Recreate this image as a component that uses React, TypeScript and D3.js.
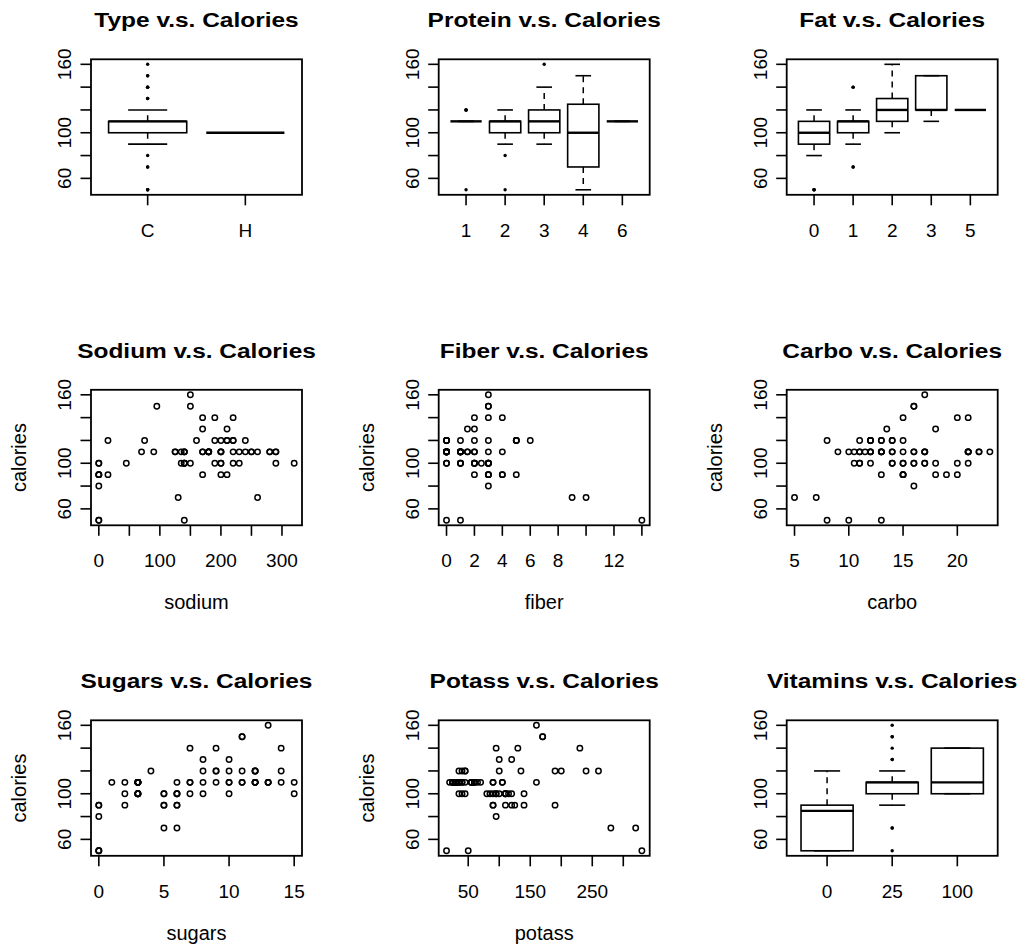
import * as d3 from "d3";

// cereal data, one entry per cereal (rows with missing values dropped)
const cerealType = [
  "C","C","C","C","C","C","C","C","C","C",
  "C","C","C","C","C","C","C","C","C","C",
  "C","C","C","C","C","C","C","C","C","C",
  "C","C","C","C","C","C","C","C","C","C",
  "C","H","C","C","C","C","C","C","C","C",
  "C","C","C","C","C","C","C","C","C","C",
  "C","C","C","C","C","C","C","C","C","C",
  "C","C","C","C",
];
const calories = [
  70,120,70,50,110,110,130,90,90,120,
  110,120,110,110,110,100,110,110,110,110,
  100,100,110,110,100,120,120,110,100,110,
  100,110,120,120,110,110,110,140,110,100,
  110,100,150,150,160,100,120,140,90,130,
  120,100,50,50,100,120,100,90,110,110,
  80,90,90,110,110,90,110,140,100,110,
  110,100,100,110,
];
const protein = [
  4,3,4,4,2,2,3,2,3,1,
  6,1,3,1,2,2,1,1,3,2,
  2,2,2,1,3,3,3,1,2,1,
  3,3,3,1,3,1,2,3,2,4,
  2,4,4,4,3,2,2,3,3,3,
  3,3,1,2,4,3,3,2,1,2,
  2,3,3,2,6,2,2,3,3,2,
  1,3,3,2,
];
const fat = [
  1,5,1,0,2,0,2,1,0,2,
  2,3,2,1,0,0,0,1,3,0,
  1,0,1,0,0,2,0,1,0,1,
  1,0,3,2,1,0,1,1,1,2,
  1,1,3,3,2,1,1,2,0,2,
  1,0,0,0,1,1,2,0,0,0,
  0,0,0,1,0,0,1,1,1,1,
  1,1,1,1,
];
const sodium = [
  130,15,260,140,180,125,210,200,210,220,
  290,210,140,180,280,290,90,180,140,220,
  140,190,125,200,0,160,240,135,45,280,
  140,170,75,220,250,180,170,170,260,150,
  180,0,95,150,150,220,190,220,170,170,
  200,320,0,0,135,210,140,0,240,290,
  0,0,0,70,230,15,200,190,200,250,
  140,230,200,200,
];
const fiber = [
  10,2,9,14,1.5,1,2,4,5,0,
  2,0,2,0,0,1,1,0,4,1,
  2,1,1,1,3,5,5,0,0,0,
  3,3,3,1,1.5,0,1,2,0,2,
  0,0,3,3,3,2,0,3,3,1.5,
  6,1,0,1,2,5,2.5,2,0,0,
  3,4,3,1,1,3,0,4,3,0,
  0,3,3,1,
];
const carbo = [
  5,8,7,8,10.5,11,18,15,13,12,
  17,13,13,12,22,21,13,12,10,21,
  11,18,11,14,14,12,14,13,11,15,
  15,17,13,12,11.5,14,17,20,21,12,
  12,16,16,16,17,15,15,21,18,13.5,
  11,20,13,10,14,14,10.5,15,23,22,
  16,19,20,9,16,15,21,15,16,21,
  13,17,17,16,
];
const sugars = [
  6,8,5,0,10,14,8,6,5,12,
  1,9,7,13,3,2,12,13,7,3,
  10,5,13,11,7,10,12,12,15,9,
  5,3,4,11,10,11,6,9,3,6,
  12,3,11,11,13,6,9,7,2,10,
  14,3,0,0,6,12,8,6,2,3,
  0,0,0,15,3,5,3,14,3,3,
  12,3,3,8,
];
const potass = [
  280,135,320,330,70,30,100,125,190,35,
  105,45,105,55,25,35,20,65,160,30,
  120,80,30,25,100,200,190,25,40,45,
  85,90,100,45,90,35,60,95,40,95,
  55,95,170,170,160,90,40,130,90,120,
  260,45,15,50,110,240,140,110,30,35,
  95,140,120,40,55,90,35,230,110,60,
  25,115,110,60,
];
const vitamins = [
  25,0,25,25,25,25,25,25,25,25,
  25,25,25,25,25,25,25,25,25,25,
  25,25,25,25,25,25,25,25,25,25,
  25,25,25,25,25,25,100,100,25,25,
  25,25,25,25,25,25,25,25,25,25,
  25,100,0,0,25,25,25,25,25,25,
  0,0,0,25,25,25,100,100,100,25,
  25,25,25,25,
];

const FONT = "'Liberation Sans', Arial, Helvetica, sans-serif";
const COL_X = [91, 438.7, 786.7];
const ROW_Y = [59.3, 389.8, 720.3];
const PW = 211;
const PH = 135.5;
const FS = 19;

const extend = ([a, b]: number[]) => {
  const d = (b - a) * 0.04;
  return [a - d, b + d];
};
const Y_DOMAIN = extend(d3.extent(calories) as number[]);

// R fivenum (Tukey hinges)
function fivenum(v: number[]) {
  const x = [...v].sort((a, b) => a - b);
  const n = x.length;
  const n4 = Math.floor((n + 3) / 2) / 2;
  const d = [1, n4, (n + 1) / 2, n + 1 - n4, n];
  return d.map((p) => 0.5 * (x[Math.floor(p) - 1] + x[Math.ceil(p) - 1]));
}

function boxStats(v: number[]) {
  const s = fivenum(v);
  const iqr = s[3] - s[1];
  const lo = s[1] - 1.5 * iqr;
  const hi = s[3] + 1.5 * iqr;
  const inside = v.filter((d) => d >= lo && d <= hi);
  const out = v.filter((d) => d < lo || d > hi);
  return {
    wlo: d3.min(inside) as number,
    q1: s[1],
    med: s[2],
    q3: s[3],
    whi: d3.max(inside) as number,
    out,
  };
}

const strW = (s: string) =>
  [...s].reduce((w, c) => w + (/[0-9]/.test(c) ? 0.556 : c === "." ? 0.278 : 0.72), 0) * FS;

// R style: skip a label if it comes closer than the width of "m" to the last one drawn
function visibleLabels(pos: number[], labels: string[]) {
  const gap = 0.833 * FS;
  const keep: boolean[] = [];
  let last = -Infinity;
  pos.forEach((p, i) => {
    const half = strW(labels[i]) / 2;
    if (p - half - last >= gap) {
      keep.push(true);
      last = p + half;
    } else keep.push(false);
  });
  return keep;
}

function Frame({ col, row, title, xlabel, ylabel }: any) {
  const left = COL_X[col];
  const top = ROW_Y[row];
  return (
    <g>
      <rect x={left} y={top} width={PW} height={PH} fill="none" stroke="#000" strokeWidth={1.8} />
      <text
        transform={`translate(${left + PW / 2},${top - 32}) scale(1.165,1)`}
        textAnchor="middle"
        fontSize={21}
        fontWeight="bold"
      >
        {title}
      </text>
      {xlabel && (
        <text x={left + PW / 2} y={top + PH + 84} textAnchor="middle" fontSize={20}>
          {xlabel}
        </text>
      )}
      {ylabel && (
        <text
          transform={`translate(${left - 65},${top + PH / 2}) rotate(-90)`}
          textAnchor="middle"
          fontSize={20}
        >
          {ylabel}
        </text>
      )}
    </g>
  );
}

function Axes({ col, row, xs, xticks, xlabels, ys }: any) {
  const left = COL_X[col];
  const bottom = ROW_Y[row] + PH;
  const yt = ys.ticks(5);
  const ylab = yt.map(String);
  const ykeep = visibleLabels(yt.map((t: number) => -ys(t)), ylab);
  const xpos = xticks.map((t: any) => xs(t));
  const xkeep = visibleLabels(xpos, xlabels);
  return (
    <g stroke="#000" strokeWidth={1.6}>
      {yt.map((t: number, i: number) => (
        <g key={"y" + t}>
          <line x1={left - 10.5} x2={left} y1={ys(t)} y2={ys(t)} />
          {ykeep[i] && (
            <text
              transform={`translate(${left - 20},${ys(t)}) rotate(-90)`}
              textAnchor="middle"
              fontSize={FS}
              stroke="none"
            >
              {ylab[i]}
            </text>
          )}
        </g>
      ))}
      {xpos.map((x: number, i: number) => (
        <g key={"x" + i}>
          <line x1={x} x2={x} y1={bottom} y2={bottom + 10.5} />
          {xkeep[i] && (
            <text x={x} y={bottom + 42} textAnchor="middle" fontSize={FS} stroke="none">
              {xlabels[i]}
            </text>
          )}
        </g>
      ))}
    </g>
  );
}

function Scatter({ x, col, row, title, xlabel }: any) {
  const left = COL_X[col];
  const top = ROW_Y[row];
  const xs = d3.scaleLinear().domain(extend(d3.extent(x) as number[])).range([left, left + PW]);
  const ys = d3.scaleLinear().domain(Y_DOMAIN).range([top + PH, top]);
  const xt = xs.ticks(5);
  return (
    <g>
      <g fill="none" stroke="#000" strokeWidth={1.5}>
        {x.map((v: number, i: number) => (
          <circle key={i} cx={xs(v)} cy={ys(calories[i])} r={2.7} />
        ))}
      </g>
      <Axes col={col} row={row} xs={xs} xticks={xt} xlabels={xt.map(String)} ys={ys} />
      <Frame col={col} row={row} title={title} xlabel={xlabel} ylabel="calories" />
    </g>
  );
}

function BoxPanel({ groupBy, col, row, title }: any) {
  const left = COL_X[col];
  const top = ROW_Y[row];
  const keys = Array.from(new Set(groupBy)).sort((a: any, b: any) =>
    typeof a === "number" ? a - b : String(a).localeCompare(String(b))
  );
  const n = keys.length;
  const xs = d3
    .scaleLinear()
    .domain([0.5 - 0.04 * n, n + 0.5 + 0.04 * n])
    .range([left, left + PW]);
  const ys = d3.scaleLinear().domain(Y_DOMAIN).range([top + PH, top]);
  const stats = keys.map((k) => boxStats(calories.filter((_, i) => groupBy[i] === k)));
  const idx = keys.map((_, i) => i + 1);
  return (
    <g>
      {stats.map((s, i) => {
        const c = i + 1;
        const bx0 = xs(c - 0.4);
        const bx1 = xs(c + 0.4);
        const cx0 = xs(c - 0.2);
        const cx1 = xs(c + 0.2);
        return (
          <g key={i} stroke="#000" fill="none">
            <g strokeWidth={1.5} strokeDasharray="6,5">
              <line x1={xs(c)} x2={xs(c)} y1={ys(s.q3)} y2={ys(s.whi)} />
              <line x1={xs(c)} x2={xs(c)} y1={ys(s.q1)} y2={ys(s.wlo)} />
            </g>
            <g strokeWidth={1.6}>
              <line x1={cx0} x2={cx1} y1={ys(s.whi)} y2={ys(s.whi)} />
              <line x1={cx0} x2={cx1} y1={ys(s.wlo)} y2={ys(s.wlo)} />
              <rect x={bx0} y={ys(s.q3)} width={bx1 - bx0} height={ys(s.q1) - ys(s.q3)} />
            </g>
            <line x1={bx0} x2={bx1} y1={ys(s.med)} y2={ys(s.med)} strokeWidth={2.4} />
            {s.out.map((o, j) => (
              <circle key={j} cx={xs(c)} cy={ys(o)} r={1.7} fill="#000" stroke="none" />
            ))}
          </g>
        );
      })}
      <Axes col={col} row={row} xs={xs} xticks={idx} xlabels={keys.map(String)} ys={ys} />
      <Frame col={col} row={row} title={title} />
    </g>
  );
}

export default function App() {
  return (
    <svg
      width={1026}
      height={946}
      style={{ position: "absolute", left: 0, top: 0, background: "#fff" }}
      fontFamily={FONT}
    >
      <rect width={1026} height={946} fill="#fff" />
      <BoxPanel groupBy={cerealType} col={0} row={0} title="Type v.s. Calories" />
      <BoxPanel groupBy={protein} col={1} row={0} title="Protein v.s. Calories" />
      <BoxPanel groupBy={fat} col={2} row={0} title="Fat v.s. Calories" />
      <Scatter x={sodium} col={0} row={1} title="Sodium v.s. Calories" xlabel="sodium" />
      <Scatter x={fiber} col={1} row={1} title="Fiber v.s. Calories" xlabel="fiber" />
      <Scatter x={carbo} col={2} row={1} title="Carbo v.s. Calories" xlabel="carbo" />
      <Scatter x={sugars} col={0} row={2} title="Sugars v.s. Calories" xlabel="sugars" />
      <Scatter x={potass} col={1} row={2} title="Potass v.s. Calories" xlabel="potass" />
      <BoxPanel groupBy={vitamins} col={2} row={2} title="Vitamins v.s. Calories" />
    </svg>
  );
}
